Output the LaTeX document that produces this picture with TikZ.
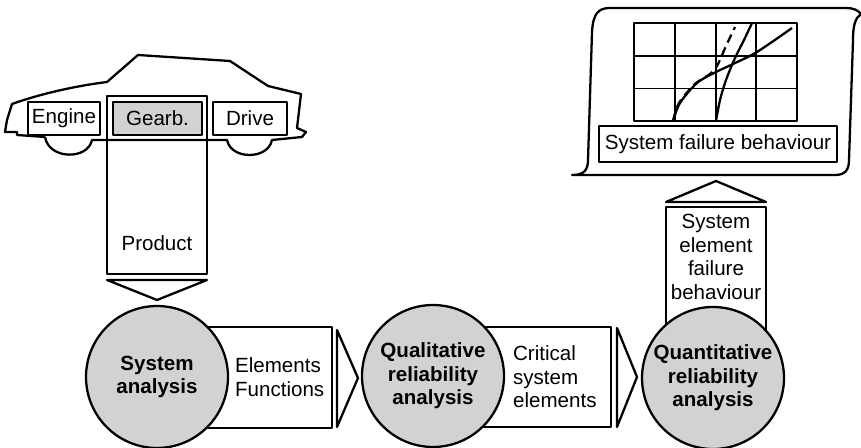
\documentclass[tikz,border=0pt]{standalone}
\usepackage{fontspec}
\setmainfont{Liberation Sans}
\usetikzlibrary{positioning}

\begin{document}
\fontsize{11.7}{13.4}\selectfont
\begin{tikzpicture}[x=0.02cm, y=-0.02cm, line width=1.3pt, line join=round,
    stage/.style = {draw, circle, fill=gray!35, minimum size=2.84cm, inner sep=0pt, align=center, font=\bfseries},
    part/.style = {draw, rectangle, minimum height=0.66cm, inner sep=0pt},
    flow/.style = {align=left, inner sep=0pt},
    grid/.style = {line width=0.8pt}]
    \useasboundingbox (0,0) rectangle (861,448);

    % the car
    \draw (45,137) -- (17,135) -- (17,132) -- (5,132) -- (7,120) -- (12,104)
        .. controls (40,94) and (75,86) .. (107,82) -- (138,55) -- (230,61)
        -- (268,86) -- (301,94) -- (297,128) -- (306,132) -- (302,137) -- (272,140)
        .. controls (268,160) and (231,160) .. (227,140) -- (92,140)
        .. controls (88,160) and (49,160) .. (45,137);
    \draw (107,96) rectangle (207,274);
    \node[part, minimum width=1.44cm] (engine) at (64,118.5) {Engine};
    \node[part, minimum width=1.78cm, fill=gray!35] (gearb) at (157.5,118.5) {Gearb.};
    \node[part, minimum width=1.48cm] (drive) at (250,118.5) {Drive};
    \node[flow] (product) at (157,243) {Product};
    \draw (107,280) -- (207,280) -- (157,300) -- cycle;

    % flow between the stages
    \draw (150,327) rectangle (332,428);
    \draw (337,330) -- (358,378) -- (337,427) -- cycle;
    \node[flow, anchor=west] (elem) at (234,377) {Elements\\Functions};
    \draw (430,327) rectangle (611,427);
    \draw (617,328) -- (637,377) -- (617,427) -- cycle;
    \node[flow, anchor=west] (crit) at (512,377) {Critical\\system\\elements};
    \draw (666,207) rectangle (766,340);
    \draw (666,202) -- (766,202) -- (716,181) -- cycle;
    \node[flow, align=center] (failure) at (716,257) {System\\element\\failure\\behaviour};

    \node[stage] (sys) at (157,377) {System\\analysis};
    \node[stage] (qual) at (433,376) {Qualitative\\reliability\\analysis};
    \node[stage] (quant) at (713,378) {Quantitative\\reliability\\analysis};

    % result sheet
    \draw (572,175) .. controls (584,175) and (588,170) .. (588,160) -- (592,32)
        .. controls (593,14) and (598,8) .. (610,8) -- (846,8)
        .. controls (853,8) and (858,10) .. (861,14)
        .. controls (855,18) and (853,26) .. (853,40) -- (849,160)
        .. controls (849,170) and (845,175) .. (835,175) -- cycle;
    \foreach \gx in {675,716,756} \draw[grid] (\gx,23) -- (\gx,121);
    \foreach \gy in {56,88.5} \draw[grid] (634,\gy) -- (797,\gy);
    \draw (634,23) rectangle (797,121);
    \draw plot[smooth] coordinates {(673,121) (680,103) (697,83) (716,72) (733,64) (757,52) (792,28)};
    \draw[dash pattern=on 5pt off 3pt] plot[smooth] coordinates {(673,121) (679,103) (695,84) (710,74) (717,66) (726,46) (735,27)};
    \draw plot[smooth] coordinates {(716,121) (720,100) (726,80) (735,58) (744,40) (752,23)};
    \node[part, minimum width=4.76cm, minimum height=0.72cm] (result) at (718,144) {System failure behaviour};
\end{tikzpicture}
\end{document}
